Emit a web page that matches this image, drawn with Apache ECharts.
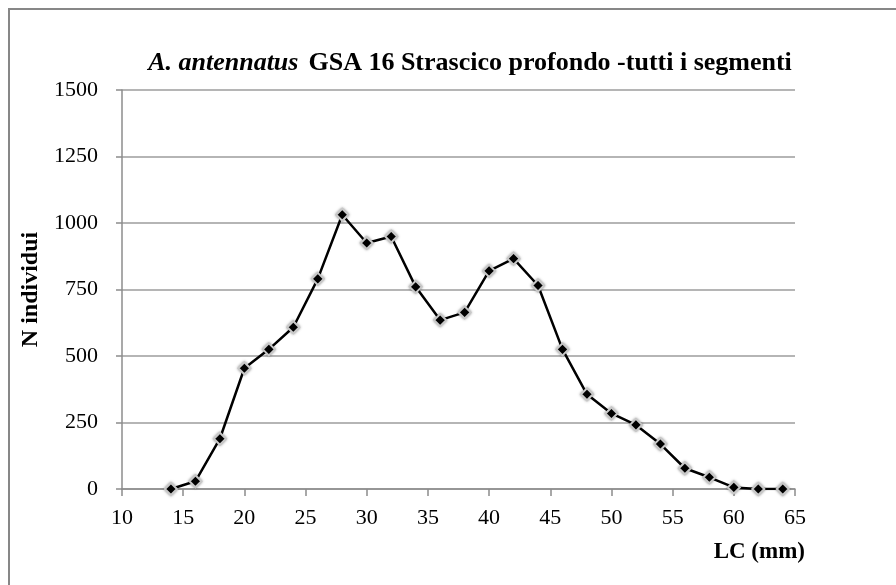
<!DOCTYPE html>
<html>
<head>
<meta charset="utf-8">
<script src="https://cdn.jsdelivr.net/npm/echarts@6/dist/echarts.min.js"></script>
<style>
  html, body { margin: 0; padding: 0; background: #fff; overflow: hidden; }
  #frame {
    position: absolute; left: 8px; top: 8px; width: 1000px; height: 700px;
    border-left: 2px solid #878787; border-top: 2px solid #878787;
  }
  #chart { position: absolute; left: 0; top: 0; width: 896px; height: 585px; }
</style>
</head>
<body>
<div id="frame"></div>
<div id="chart"></div>
<script>
// LC (mm) classes and counts
const lcClasses = [14, 16, 18, 20, 22, 24, 26, 28, 30, 32, 34, 36, 38, 40, 42, 44, 46, 48, 50, 52, 54, 56, 58, 60, 62, 64]
const nIndividui = [0, 29, 189, 454, 525, 608, 790, 1031, 925, 949, 760, 635, 664, 820, 866, 765, 525, 356, 284, 241, 169, 78, 44, 6, 0, 0]
const xTicks = [10, 15, 20, 25, 30, 35, 40, 45, 50, 55, 60, 65]
const yTicks = [0, 250, 500, 750, 1000, 1250, 1500]

const font = '"Liberation Serif", "Times New Roman", serif'
const chart = echarts.init(document.getElementById('chart'))

chart.setOption({
  backgroundColor: 'transparent',
  animation: false,
  title: {
    text: '{i|A. antennatus}  {b|GSA 16 Strascico profondo -tutti i segmenti}',
    left: 465, top: 45, textAlign: 'center',
    textStyle: {
      rich: {
        i: { fontFamily: font, fontSize: 26, fontWeight: 'bold', fontStyle: 'italic', color: '#000' },
        b: { fontFamily: font, fontSize: 26, fontWeight: 'bold', color: '#000' },
      },
    },
  },
  grid: { left: 122, right: 101, top: 90, bottom: 96 },
  xAxis: {
    type: 'value', min: xTicks[0], max: xTicks[xTicks.length - 1], interval: 5,
    name: 'LC (mm)', nameLocation: 'end', nameGap: 10,
    nameTextStyle: { fontFamily: font, fontSize: 23, fontWeight: 'bold', color: '#000', align: 'right', verticalAlign: 'top', padding: [52, 0, 0, 0] },
    axisLine: { lineStyle: { color: '#8c8c8c', width: 1.5 } },
    axisTick: { show: true, inside: false, length: 7, lineStyle: { color: '#8c8c8c', width: 1.5 } },
    axisLabel: { fontFamily: font, fontSize: 22, color: '#000', margin: 18 },
    splitLine: { show: false },
  },
  yAxis: {
    type: 'value', min: yTicks[0], max: yTicks[yTicks.length - 1], interval: 250,
    name: 'N individui', nameLocation: 'middle', nameGap: 76, nameRotate: 90,
    nameTextStyle: { fontFamily: font, fontSize: 24, fontWeight: 'bold', color: '#000' },
    axisLine: { show: true, lineStyle: { color: '#8c8c8c', width: 1.5 } },
    axisTick: { show: true, length: 6, lineStyle: { color: '#8c8c8c', width: 1.5 } },
    axisLabel: { fontFamily: font, fontSize: 22, color: '#000', margin: 24, formatter: (v) => String(v) },
    splitLine: { lineStyle: { color: '#9c9c9c', width: 1.5 } },
  },
  series: [{
    type: 'line',
    data: lcClasses.map((x, i) => [x, nIndividui[i]]),
    symbol: 'diamond', symbolSize: 12,
    lineStyle: { color: '#000', width: 2.5 },
    itemStyle: { color: '#000', borderColor: '#c8c8c8', borderWidth: 2, shadowColor: 'rgba(0,0,0,0.35)', shadowBlur: 3 },
  }],
})
</script>
</body>
</html>
